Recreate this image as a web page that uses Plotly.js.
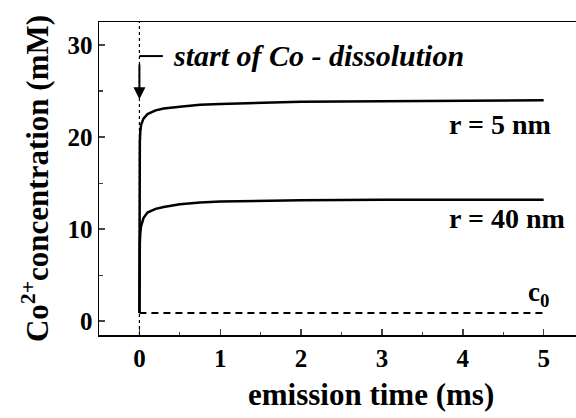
<!DOCTYPE html>
<html><head><meta charset="utf-8">
<script src="https://cdn.plot.ly/plotly-3.0.1.min.js"></script>
<style>html,body{margin:0;padding:0;background:#fff}#chart{width:576px;height:418px}</style>
</head><body><div id="chart"></div>
<script>
// emission time (ms)
const time = [0, 0, 0.005, 0.01, 0.02, 0.05, 0.1, 0.2, 0.3, 0.5, 0.75, 1, 1.5, 2, 3, 4, 5];
// Co2+ concentration (mM)
const r5nm  = [0.9, 15, 19.5, 20.5, 21.3, 22.0, 22.5, 22.9, 23.1, 23.3, 23.5, 23.6, 23.75, 23.85, 23.9, 23.95, 24.0];
const r40nm = [0.9, 6, 8.5, 9.5, 10.3, 11.2, 11.8, 12.2, 12.4, 12.7, 12.9, 13.0, 13.1, 13.15, 13.2, 13.2, 13.2];
const c0Time = [0, 5];
const c0Val = [0.9, 0.9];
const xTicks = [0, 1, 2, 3, 4, 5];
const yTicks = [0, 10, 20, 30];

const serif = 'Liberation Serif';
const traces = [
  {x: time, y: r5nm, mode: 'lines', line: {color: '#000', width: 2.5}, hoverinfo: 'skip'},
  {x: time, y: r40nm, mode: 'lines', line: {color: '#000', width: 2.5}, hoverinfo: 'skip'},
  {x: c0Time, y: c0Val, mode: 'lines', line: {color: '#000', width: 2, dash: '7px,5px'}, hoverinfo: 'skip'}
];
const layout = {
  width: 576, height: 418,
  margin: {l: 99, r: 0, t: 22, b: 83},
  showlegend: false,
  paper_bgcolor: '#fff', plot_bgcolor: '#fff',
  font: {family: serif, color: '#000'},
  xaxis: {
    range: [-0.5, 5.4], tickvals: xTicks, ticks: 'inside', ticklen: 6, tickwidth: 1.5,
    showline: true, linewidth: 1.5, linecolor: '#000', mirror: true, showgrid: false, zeroline: false,
    tickfont: {family: serif, size: 25, color: '#000', weight: 'bold'},
    minor: {dtick: 0.5, tick0: 0, ticks: 'inside', ticklen: 3, tickwidth: 1.2, showgrid: false}
  },
  yaxis: {
    range: [-1.5, 32.5], tickvals: yTicks, ticks: 'inside', ticklen: 6, tickwidth: 1.5,
    showline: true, linewidth: 1.5, linecolor: '#000', mirror: false, showgrid: false, zeroline: false,
    tickfont: {family: serif, size: 25, color: '#000', weight: 'bold'},
    minor: {dtick: 5, tick0: 0, ticks: 'inside', ticklen: 4, tickwidth: 1.2, showgrid: false},
    title: {text: '<b>Co<sup>2+</sup>concentration (mM)</b>', font: {family: serif, size: 31, color: '#000'}, standoff: 9}
  },
  shapes: [
    {type: 'line', xref: 'x', yref: 'paper', x0: 0, x1: 0, y0: 0, y1: 1, line: {color: '#000', width: 1.2, dash: 'dot'}},
    {type: 'line', xref: 'x', yref: 'y', x0: 0, x1: 0.29, y0: 28.8, y1: 28.8, line: {color: '#000', width: 2}}
  ],
  annotations: [
    {x: 0.57, y: -0.19, xref: 'paper', yref: 'paper', xanchor: 'center', yanchor: 'middle', showarrow: false,
     text: '<b>emission time (ms)</b>', font: {family: serif, size: 31, color: '#000'}},
    {x: 0, y: 24.1, ax: 0, ay: 28.8, axref: 'x', ayref: 'y', xref: 'x', yref: 'y', text: ' ', showarrow: true,
     arrowhead: 2, arrowsize: 1.2, arrowwidth: 2, arrowcolor: '#000'},
    {x: 0.39, y: 28.9, xref: 'x', yref: 'y', xanchor: 'left', yanchor: 'middle', showarrow: false,
     text: '<b><i>start of Co - dissolution</i></b>', font: {family: serif, size: 30, color: '#000'}},
    {x: 3.8, y: 21.4, xref: 'x', yref: 'y', xanchor: 'left', yanchor: 'middle', showarrow: false,
     text: '<b>r = 5 nm</b>', font: {family: serif, size: 28, color: '#000'}},
    {x: 3.8, y: 11.2, xref: 'x', yref: 'y', xanchor: 'left', yanchor: 'middle', showarrow: false,
     text: '<b>r = 40 nm</b>', font: {family: serif, size: 28, color: '#000'}},
    {x: 4.94, y: 2.9, xref: 'x', yref: 'y', xanchor: 'center', yanchor: 'middle', showarrow: false,
     text: '<b>c<sub>0</sub></b>', font: {family: serif, size: 27, color: '#000'}}
  ]
};
Plotly.newPlot('chart', traces, layout, {staticPlot: true});
</script></body></html>
